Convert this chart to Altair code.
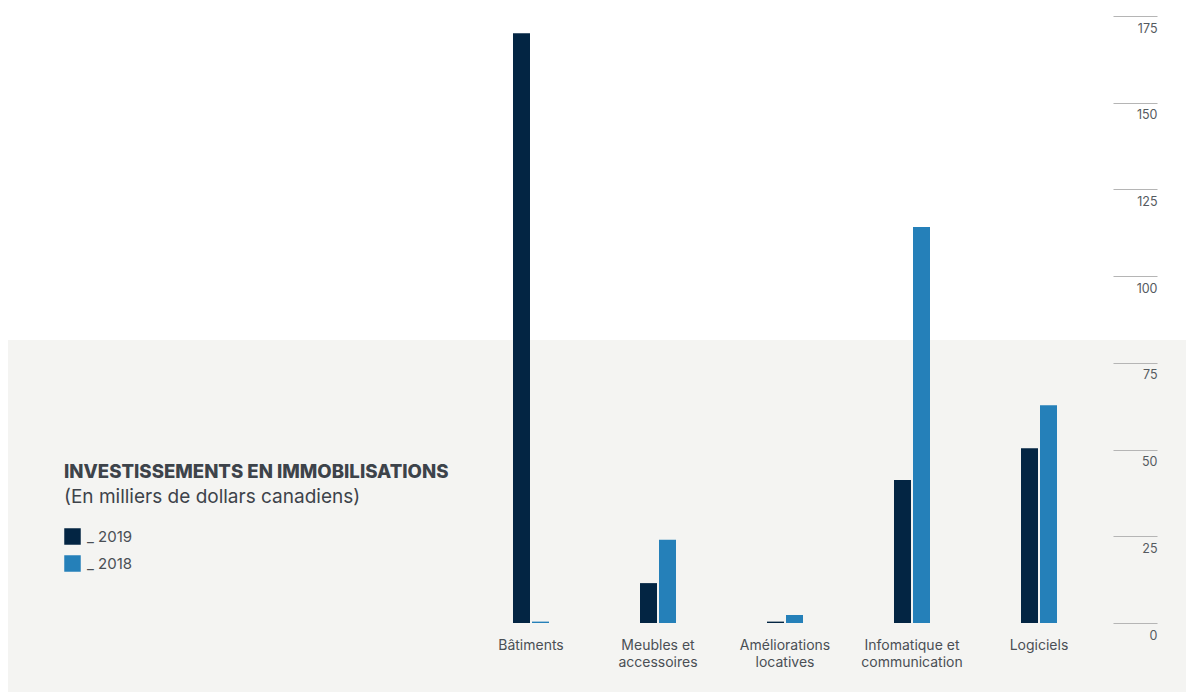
import altair as alt
import pandas as pd

categories = ["Bâtiments", "Meubles et\naccessoires", "Améliorations\nlocatives",
              "Infomatique et\ncommunication", "Logiciels"]
values_2019 = [170.0, 11.5, 0.4, 41.2, 50.4]
values_2018 = [0.4, 24.0, 2.3, 114.2, 62.8]
years = ["2019", "2018"]
colors = ["#032543", "#2580b9"]
y_ticks = [0, 25, 50, 75, 100, 125, 150, 175]

rows = []
for i, c in enumerate(categories):
    rows.append({"cat": c, "year": "2019", "value": values_2019[i]})
    rows.append({"cat": c, "year": "2018", "value": values_2018[i]})
df = pd.DataFrame(rows)

FONT = "Inter"
TOTAL_W, TOTAL_H = 1178, 684
W, H = 635, 607
PL, PT = 459.5, 8

bg = alt.Chart(pd.DataFrame({"a": [0]})).mark_rect(color="#f4f4f2").encode(
    x=alt.value(-PL), x2=alt.value(TOTAL_W - PL),
    y=alt.value(324), y2=alt.value(TOTAL_H)
)

bars = alt.Chart(df).mark_bar().encode(
    x=alt.X("cat:N", sort=categories, title=None,
            scale=alt.Scale(paddingInner=0.7165, paddingOuter=0.35825),
            axis=alt.Axis(domain=False, ticks=False, labelAngle=0, zindex=1,
                          labelExpr="split(datum.label, '\\n')",
                          labelFont=FONT, labelFontSize=14, labelColor="#4a4f55",
                          labelPadding=15, labelLineHeight=17, labelBaseline="top")),
    xOffset=alt.XOffset("year:N", sort=years,
                        scale=alt.Scale(paddingInner=0.10526, paddingOuter=0)),
    y=alt.Y("value:Q", title=None,
            scale=alt.Scale(domain=[0, 175], nice=False, zero=True),
            axis=alt.Axis(orient="right", values=y_ticks, domain=False, grid=False,
                          zindex=1,
                          offset=10.5, tickSize=44, tickColor="#b5b5b5", tickWidth=1,
                          labelPadding=0, labelAlign="right", labelBaseline="top",
                          labelOffset=6, labelFont=FONT, labelFontSize=12.5,
                          labelColor="#555a60")),
    color=alt.Color("year:N", sort=years, title=None,
                    scale=alt.Scale(domain=years, range=colors),
                    legend=alt.Legend(orient="none", legendX=-403.5, legendY=512,
                                      symbolType="square", symbolSize=272,
                                      symbolStrokeWidth=0, symbolOpacity=1,
                                      labelFont=FONT, labelFontSize=15,
                                      labelColor="#4a4f55", labelOffset=6,
                                      rowPadding=10, zindex=1,
                                      labelExpr="'_ ' + datum.label")),
)

title = alt.Chart(pd.DataFrame({"t": ["INVESTISSEMENTS EN IMMOBILISATIONS"]})).mark_text(
    align="left", baseline="alphabetic", font=FONT, fontSize=18.6, fontWeight=800,
    color="#3d434a"
).encode(x=alt.value(-403.5), y=alt.value(462), text="t:N")

subtitle = alt.Chart(pd.DataFrame({"t": ["(En milliers de dollars canadiens)"]})).mark_text(
    align="left", baseline="alphabetic", font=FONT, fontSize=19,
    color="#3d434a"
).encode(x=alt.value(-403.5), y=alt.value(487), text="t:N")

chart = alt.layer(bg, bars, title, subtitle).properties(
    width=W, height=H,
    autosize=alt.AutoSizeParams(type="none"),
    padding={"left": PL, "top": PT, "right": TOTAL_W - PL - W, "bottom": TOTAL_H - PT - H},
    background="white",
).configure_view(stroke=None)

chart.save("out.html", embed_options={"renderer": "svg", "actions": False})
